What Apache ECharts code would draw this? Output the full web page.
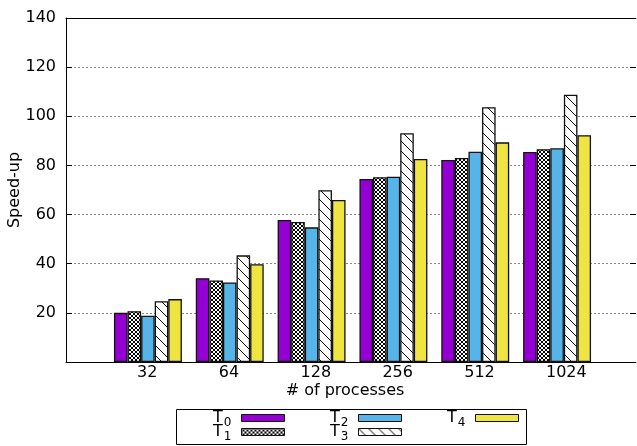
<!DOCTYPE html>
<html><head><meta charset="utf-8">
<script src="https://cdn.jsdelivr.net/npm/echarts@6/dist/echarts.min.js"></script>
<style>html,body{margin:0;padding:0;background:#fff}#c{width:637px;height:446px}</style>
</head><body><div id="c"></div>
<script>
var categories = ['32', '64', '128', '256', '512', '1024'];
var seriesNames = ['T0', 'T1', 'T2', 'T3', 'T4'];
var T0 = [20.0, 34.1, 57.8, 74.5, 82.2, 85.5];
var T1 = [20.7, 33.2, 57.0, 75.2, 83.0, 86.6];
var T2 = [18.8, 32.4, 54.8, 75.4, 85.6, 87.0];
var T3 = [24.7, 43.4, 69.9, 93.1, 103.7, 108.8];
var T4 = [25.6, 39.8, 65.9, 82.6, 89.4, 92.3];
var yTicks = [20, 40, 60, 80, 100, 120, 140];

var FONT = 'DejaVu Sans';
var FS = 16;

function checker() {
  var c = document.createElement('canvas'); c.width = 4; c.height = 4;
  var g = c.getContext('2d'); g.fillStyle = '#fff'; g.fillRect(0, 0, 4, 4);
  g.fillStyle = '#000';
  for (var i = 0; i < 4; i++) { g.fillRect(i, i, 1, 1); g.fillRect(3 - i, i, 1, 1); }
  return { image: c, repeat: 'repeat' };
}
function hatch() {
  var n = 10;
  var c = document.createElement('canvas'); c.width = n; c.height = n;
  var g = c.getContext('2d'); g.fillStyle = '#fff'; g.fillRect(0, 0, n, n);
  g.strokeStyle = '#000'; g.lineWidth = 1;
  g.beginPath();
  g.moveTo(-1, -1); g.lineTo(n + 1, n + 1);
  g.moveTo(-1, n - 1); g.lineTo(1, n + 1);
  g.moveTo(n - 1, -1); g.lineTo(n + 1, 1);
  g.stroke();
  return { image: c, repeat: 'repeat' };
}

var fills = ['#9400d3', checker(), '#56b4e9', hatch(), '#f0e442'];
var values = [T0, T1, T2, T3, T4];

var chart = echarts.init(document.getElementById('c'), null, { renderer: 'canvas' });

var series = seriesNames.map(function (n, i) {
  return {
    name: n, type: 'bar', xAxisIndex: 1, yAxisIndex: 1,
    data: values[i], barGap: '0%', barCategoryGap: '17%',
    itemStyle: { color: fills[i], borderColor: '#111', borderWidth: 1.3 },
    emphasis: { disabled: true }, animation: false
  };
});

function legendFmt(name) { return '{t|T}{s|' + name.slice(1) + '}'; }
var legendRich = {
  t: { fontFamily: FONT, fontSize: FS, color: '#000', lineHeight: 16, verticalAlign: 'top' },
  s: { fontFamily: FONT, fontSize: 12, color: '#000', lineHeight: 12, padding: [7, 5, 1, 1], verticalAlign: 'top' }
};
function mkLegend(data, right) {
  return {
    data: data, orient: 'vertical', align: 'right', right: right, top: 410,
    padding: 0, itemGap: -6, itemWidth: 43, itemHeight: 7, selectedMode: false,
    icon: 'rect',
    formatter: legendFmt, textStyle: { rich: legendRich },
    itemStyle: { borderColor: '#111', borderWidth: 1 }
  };
}

var noZero = { onZero: false };
var gridBase = { top: 18, bottom: 84, outerBoundsMode: 'none', containLabel: false };

var option = {
  animation: false,
  grid: [
    Object.assign({ left: 66, right: 1 }, gridBase),
    Object.assign({ left: 107, width: 491 }, gridBase),
    Object.assign({ left: 137, width: 409 }, gridBase)
  ],
  legend: [mkLegend(['T0', 'T1'], 352), mkLegend(['T2', 'T3'], 235), mkLegend(['T4'], 118)],
  graphic: [{
    type: 'rect', shape: { x: 176.5, y: 409.5, width: 350, height: 35 },
    style: { fill: 'none', stroke: '#000', lineWidth: 1 }, silent: true
  }],
  xAxis: [
    { gridIndex: 0, type: 'value', min: 0, max: 1, position: 'bottom',
      axisLine: { onZero: false, lineStyle: { color: '#000', width: 1 } }, axisTick: { show: false },
      axisLabel: { show: false }, splitLine: { show: false },
      name: '# of processes', nameLocation: 'middle', nameGap: 21, nameMoveOverlap: false,
      nameTextStyle: { fontFamily: FONT, fontSize: FS, color: '#000', padding: [0, 12, 0, 0] } },
    { gridIndex: 1, type: 'category', data: categories, show: false, axisLine: noZero },
    { gridIndex: 0, type: 'value', min: 0, max: 1, position: 'top',
      axisLine: { onZero: false, lineStyle: { color: '#000', width: 1 } }, axisTick: { show: false },
      axisLabel: { show: false }, splitLine: { show: false } },
    { gridIndex: 2, type: 'value', min: 0, max: categories.length - 1, interval: 1, position: 'bottom',
      axisLine: { show: false, onZero: false }, axisTick: { show: false }, splitLine: { show: false },
      axisLabel: { align: 'left', margin: 3, fontFamily: FONT, fontSize: FS, color: '#000',
        formatter: function (v) { return categories[Math.round(v)] || ''; } } }
  ],
  yAxis: [
    { gridIndex: 0, type: 'value', min: 0, max: 140, interval: 20, position: 'left',
      axisLine: { show: true, onZero: false, lineStyle: { color: '#000', width: 1 } },
      axisTick: { show: true, inside: true, length: 6, lineStyle: { color: '#000' } },
      axisLabel: { margin: 10, fontFamily: FONT, fontSize: FS, color: '#000',
        formatter: function (v) { return yTicks.indexOf(v) >= 0 ? String(v) : ''; } },
      splitLine: { show: true, lineStyle: { color: '#888', width: 1, type: [2, 2] } },
      name: 'Speed-up', nameLocation: 'middle', nameGap: 43, nameMoveOverlap: false,
      nameTextStyle: { fontFamily: FONT, fontSize: FS, color: '#000' } },
    { gridIndex: 1, type: 'value', min: 0, max: 140, show: false, axisLine: noZero },
    { gridIndex: 0, type: 'value', min: 0, max: 140, interval: 20, position: 'right',
      axisLine: { show: false, onZero: false }, axisLabel: { show: false }, splitLine: { show: false },
      axisTick: { show: true, inside: true, length: 6, lineStyle: { color: '#000' } } },
    { gridIndex: 2, type: 'value', min: 0, max: 140, show: false, axisLine: noZero }
  ],
  series: series
};
chart.setOption(option);
</script></body></html>
